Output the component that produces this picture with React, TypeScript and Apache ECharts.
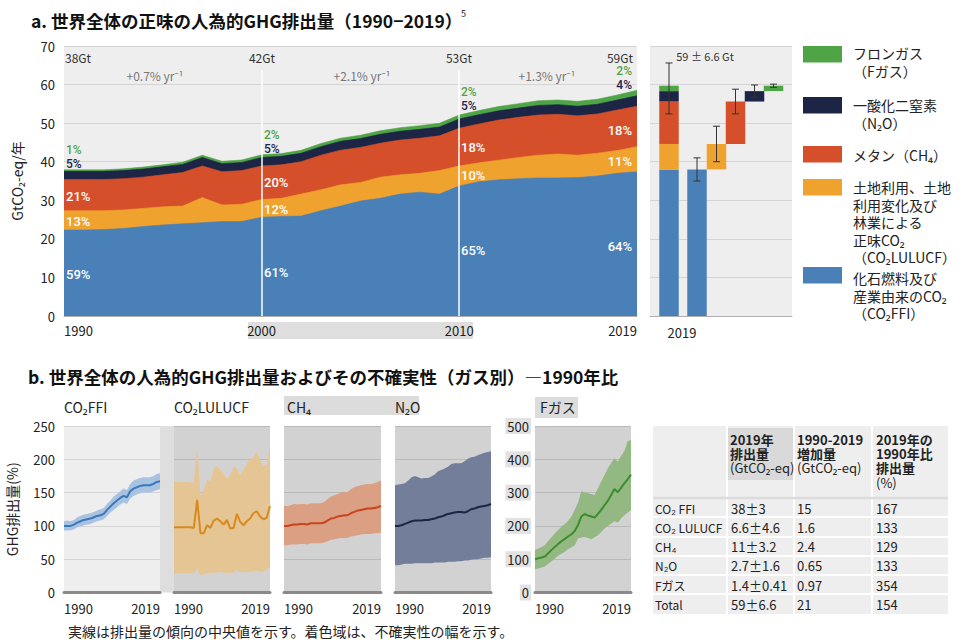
import React, { useEffect, useRef } from 'react';
import * as echarts from 'echarts';

const FONT = "'Noto Sans CJK JP', 'Noto Sans', 'DejaVu Sans', sans-serif";
const NARROW = "'Liberation Sans Narrow', 'Noto Sans CJK JP', sans-serif";
const LATIN = "Roboto, 'Noto Sans', sans-serif";

// ---------- Panel a data (GtCO2-eq / yr) ----------
const years = [1990, 1991, 1992, 1993, 1994, 1995, 1996, 1997, 1998, 1999, 2000, 2001, 2002, 2003, 2004, 2005, 2006, 2007, 2008, 2009, 2010, 2011, 2012, 2013, 2014, 2015, 2016, 2017, 2018, 2019];
const co2ffi = [22.3, 22.3, 22.4, 22.7, 23.2, 23.6, 23.9, 24.2, 24.5, 24.5, 25.6, 25.8, 25.9, 27.3, 28.5, 29.8, 30.5, 31.6, 32.1, 31.6, 33.7, 34.8, 35.3, 35.6, 35.8, 35.8, 35.9, 36.3, 37.0, 37.4];
const co2lulucf = [5.0, 5.0, 4.9, 4.8, 4.7, 4.7, 4.6, 6.5, 4.3, 4.5, 4.6, 4.7, 5.7, 5.4, 5.5, 4.8, 5.5, 5.0, 4.9, 6.1, 5.2, 4.9, 5.1, 5.5, 5.9, 6.2, 5.8, 5.9, 5.9, 6.5];
const ch4 = [8.1, 8.1, 8.1, 8.1, 8.1, 8.3, 8.7, 8.2, 8.6, 8.7, 8.7, 8.7, 8.4, 9.0, 9.0, 9.1, 8.8, 9.0, 9.1, 9.0, 9.8, 10.1, 10.4, 10.4, 10.4, 10.3, 10.2, 10.2, 10.5, 10.5];
const n2o = [2.1, 2.1, 2.1, 2.1, 2.1, 2.1, 2.1, 2.2, 2.1, 2.1, 2.2, 2.2, 2.2, 2.2, 2.3, 2.3, 2.3, 2.3, 2.3, 2.3, 2.4, 2.4, 2.4, 2.4, 2.5, 2.5, 2.5, 2.5, 2.6, 2.7];
const fgas = [0.4, 0.4, 0.4, 0.45, 0.5, 0.5, 0.55, 0.6, 0.6, 0.65, 0.7, 0.7, 0.75, 0.8, 0.8, 0.85, 0.9, 0.9, 0.95, 0.95, 1.0, 1.05, 1.1, 1.15, 1.2, 1.2, 1.25, 1.3, 1.3, 1.4];

const gasColors = ['#4a80b8', '#f0a22e', '#d5502a', '#1c2546', '#4fa545'];

// 2019 waterfall
const gas2019 = [38, 6.6, 11, 2.7, 1.4];
const gasErr2019 = [3, 4.6, 3.2, 1.6, 0.41];
const total2019 = 59;
const totalErr2019 = 6.6;

// Top chart annotations
const totalLabels = ['38Gt', '42Gt', '53Gt', '59Gt'];
const rateLabels = ['+0.7% yr⁻¹', '+2.1% yr⁻¹', '+1.3% yr⁻¹'];
const share1990 = ['1%', '5%', '21%', '13%', '59%'];
const share2000 = ['2%', '5%', '20%', '12%', '61%'];
const share2010 = ['2%', '5%', '18%', '10%', '65%'];
const share2019 = ['2%', '4%', '18%', '11%', '64%'];

// ---------- Panel b data (% of 1990) ----------
const ffiMed = [100, 100, 100, 102, 105, 107, 109, 110, 111, 113, 115, 116, 118, 124, 129, 134, 138, 142, 145, 143, 152, 156, 158, 160, 161, 161, 161, 163, 166, 167];
const ffiLo = [93, 93, 93, 95, 98, 99, 101, 102, 103, 105, 107, 108, 110, 115, 120, 124, 128, 132, 135, 133, 141, 145, 147, 149, 150, 150, 150, 152, 154, 155];
const ffiHi = [107, 108, 107, 109, 113, 115, 117, 118, 119, 121, 123, 125, 127, 133, 138, 144, 148, 152, 156, 154, 163, 168, 170, 172, 173, 173, 173, 175, 178, 179];
const lulMed = [98, 98, 98, 98, 98, 98, 97, 139, 89, 89, 101, 97, 108, 111, 107, 102, 109, 96, 97, 118, 106, 101, 107, 111, 119, 122, 114, 110, 112, 130];
const lulLo = [29, 29, 29, 29, 29, 29, 29, 36, 25, 27, 29, 29, 29, 30, 31, 30, 29, 29, 30, 34, 30, 31, 30, 31, 32, 33, 31, 31, 35, 38];
const lulHi = [166, 166, 166, 166, 166, 165, 164, 219, 144, 154, 170, 166, 186, 190, 184, 179, 171, 176, 189, 186, 176, 184, 194, 200, 204, 211, 199, 190, 191, 221];
const ch4Med = [100, 100, 101, 102, 102, 103, 103, 102, 104, 104, 104, 104, 105, 108, 111, 112, 114, 115, 116, 116, 119, 121, 123, 124, 125, 126, 126, 127, 128, 130];
const ch4Lo = [71, 71, 72, 72, 72, 73, 73, 72, 74, 74, 74, 74, 75, 77, 79, 80, 81, 82, 82, 82, 84, 85, 86, 87, 88, 88, 88, 89, 89, 90];
const ch4Hi = [130, 130, 131, 133, 132, 133, 133, 132, 134, 134, 134, 134, 136, 140, 144, 146, 148, 150, 151, 151, 155, 158, 160, 161, 162, 163, 163, 164, 166, 168];
const n2oMed = [100, 100, 101, 103, 105, 107, 108, 108, 108, 109, 109, 110, 111, 113, 114, 116, 118, 119, 120, 121, 121, 120, 122, 125, 126, 128, 129, 130, 131, 133];
const n2oLo = [41, 41, 42, 43, 43, 43, 44, 44, 44, 44, 44, 44, 45, 45, 45, 45, 46, 46, 46, 47, 47, 48, 48, 49, 50, 50, 51, 52, 52, 53];
const n2oHi = [161, 162, 163, 164, 168, 173, 175, 173, 171, 172, 172, 174, 177, 182, 184, 186, 189, 193, 194, 194, 194, 197, 201, 203, 204, 206, 208, 210, 211, 212];
const fgMed = [100, 103, 105, 108, 118, 128, 137, 146, 154, 161, 168, 175, 185, 203, 228, 236, 231, 228, 225, 236, 248, 262, 275, 293, 311, 301, 314, 328, 340, 354];
const fgLo = [70, 72, 75, 78, 86, 94, 102, 110, 116, 122, 130, 136, 142, 162, 165, 167, 164, 160, 166, 172, 182, 192, 200, 207, 214, 210, 222, 232, 240, 247];
const fgHi = [128, 132, 137, 143, 155, 166, 178, 188, 198, 206, 215, 228, 248, 270, 305, 300, 298, 296, 293, 313, 333, 353, 373, 388, 403, 393, 410, 425, 455, 458];

const panelTitles = ['CO₂FFI', 'CO₂LULUCF', 'CH₄', 'N₂O', 'Fガス'];
const panelLineColors = ['#3b78b7', '#d98a1e', '#c9431f', '#1c2546', '#3d8d2f'];
const panelBandColors = ['#a8c3e1', '#e6c594', '#dba083', '#737e9a', '#94b881'];

// Table
const tableRowLabels = ['CO₂ FFI', 'CO₂ LULUCF', 'CH₄', 'N₂O', 'Fガス', 'Total'];
const table2019 = ['38±3', '6.6±4.6', '11±3.2', '2.7±1.6', '1.4±0.41', '59±6.6'];
const tableIncrease = ['15', '1.6', '2.4', '0.65', '0.97', '21'];
const tableRatio = ['167', '133', '129', '133', '354', '154'];
const tableHead1 = ['2019年', '排出量', '(GtCO₂-eq)'];
const tableHead2 = ['1990-2019', '増加量', '(GtCO₂-eq)'];
const tableHead3 = ['2019年の', '1990年比', '排出量', '(%)'];

const legendItems = [
  { color: 4, lines: ['フロンガス', '（Fガス）'] },
  { color: 3, lines: ['一酸化二窒素', '（N₂O）'] },
  { color: 2, lines: ['メタン（CH₄）'] },
  { color: 1, lines: ['土地利用、土地', '利用変化及び', '林業による', '正味CO₂', '（CO₂LULUCF）'] },
  { color: 0, lines: ['化石燃料及び', '産業由来のCO₂', '（CO₂FFI）'] },
];

function txt(text: string, x: number, y: number, o: any = {}) {
  const va = o.valign ?? 'middle';
  const style: any = {
    text, fontSize: o.size ?? 13, fill: o.color ?? '#222', fontFamily: o.family ?? FONT,
    fontWeight: o.weight ?? 'normal',
    textAlign: o.align ?? 'left', align: o.align ?? 'left',
    textVerticalAlign: va, verticalAlign: va,
  };
  if (o.lineHeight) style.lineHeight = o.lineHeight;
  if (o.rich) style.rich = o.rich;
  return { type: 'text', x, y, z: 100, silent: true, style };
}
function rect(x: number, y: number, w: number, h: number, fill: string, z = -1) {
  return { type: 'rect', z, silent: true, shape: { x, y, width: w, height: h }, style: { fill } };
}
function hline(x1: number, x2: number, y: number, stroke: string, w = 1, z = 1) {
  return { type: 'line', z, silent: true, shape: { x1, y1: y, x2, y2: y }, style: { stroke, lineWidth: w } };
}
function vline(x: number, y1: number, y2: number, stroke: string, w = 1, z = 1) {
  return { type: 'line', z, silent: true, shape: { x1: x, y1, x2: x, y2 }, style: { stroke, lineWidth: w } };
}

function buildOption() {
  const gasSeries = [co2ffi, co2lulucf, ch4, n2o, fgas];

  const grid: any[] = [
    { left: 64, top: 46, width: 573, height: 270, show: true, backgroundColor: '#efeeef', borderWidth: 0 },
    { left: 650, top: 46, width: 142, height: 270, show: true, backgroundColor: '#efeeef', borderWidth: 0 },
  ];
  const panelLefts = [64, 174, 284, 395, 535];
  const panelWidths = [96, 96, 97, 96, 96];
  panelLefts.forEach((l, k) => {
    grid.push({ left: l, top: 426, width: panelWidths[k], height: 166.5, show: true, backgroundColor: k === 0 ? '#efeeef' : '#d3d2d3', borderWidth: 0 });
  });

  const axisLabelBase = { fontFamily: FONT, fontSize: 13, color: '#222' };

  const xAxis: any[] = [
    {
      gridIndex: 0, type: 'value', min: 1990, max: 2019,
      axisLine: { show: true, lineStyle: { color: '#b0b0b0' } }, axisTick: { show: false }, splitLine: { show: false },
      axisLabel: { ...axisLabelBase, customValues: [1990, 2000, 2010, 2019], alignMinLabel: 'left', alignMaxLabel: 'right', margin: 8, formatter: (v: number) => String(v) },
    },
    {
      gridIndex: 1, type: 'value', min: 0, max: 142,
      axisLine: { show: true, lineStyle: { color: '#b0b0b0' } }, axisTick: { show: false }, splitLine: { show: false }, axisLabel: { show: false },
    },
  ];
  const yAxis: any[] = [
    {
      gridIndex: 0, type: 'value', min: 0, max: 70, interval: 10,
      axisLine: { show: false }, axisTick: { show: false },
      splitLine: { lineStyle: { color: '#d4d4d4' } },
      axisLabel: { ...axisLabelBase, margin: 9 },
      name: 'GtCO₂-eq/年', nameLocation: 'middle', nameRotate: 90, nameGap: 40,
      nameTextStyle: { fontFamily: FONT, fontSize: 14, color: '#222' },
    },
    {
      gridIndex: 1, type: 'value', min: 0, max: 70, interval: 10,
      axisLine: { show: false }, axisTick: { show: false }, axisLabel: { show: false },
      splitLine: { lineStyle: { color: '#d4d4d4' } },
    },
  ];
  panelLefts.forEach((_, k) => {
    const gi = k + 2;
    xAxis.push({
      gridIndex: gi, type: 'value', min: 1990, max: 2019,
      axisLine: { show: true, lineStyle: { color: '#8a8a8a', width: 3 } }, axisTick: { show: false }, splitLine: { show: false },
      axisLabel: { ...axisLabelBase, customValues: [1990, 2019], alignMinLabel: 'left', alignMaxLabel: 'right', margin: 9, formatter: (v: number) => String(v) },
    });
    const isF = k === 4;
    yAxis.push({
      gridIndex: gi, type: 'value', min: 0, max: isF ? 500 : 250, interval: isF ? 100 : 50,
      axisLine: { show: false }, axisTick: { show: false },
      splitLine: { lineStyle: { color: k === 0 ? '#d4d4d4' : '#b9b9b9', width: 1.2 } },
      axisLabel: k === 0
        ? { ...axisLabelBase, margin: 9 }
        : isF
          ? { ...axisLabelBase, margin: 4, backgroundColor: '#e2e2e2', padding: [2, 2, 1, 2] }
          : { show: false },
      ...(k === 0 ? {
        name: 'GHG排出量(%)', nameLocation: 'middle', nameRotate: 90, nameGap: 45,
        nameTextStyle: { fontFamily: FONT, fontSize: 14, color: '#222' },
      } : {}),
    });
  });

  const series: any[] = [];
  // stacked areas: cumulative tops, painted from the total downwards
  const gasNames = ['CO2FFI', 'CO2LULUCF', 'CH4', 'N2O', 'Fgas'];
  const cumTops: number[][] = [];
  gasSeries.forEach((arr, i) => {
    cumTops.push(arr.map((v, j) => (i === 0 ? 0 : cumTops[i - 1][j]) + v));
  });
  for (let i = gasSeries.length - 1; i >= 0; i--) {
    series.push({
      name: gasNames[i], type: 'line', xAxisIndex: 0, yAxisIndex: 0,
      symbol: 'none', silent: true, z: 2,
      lineStyle: { width: 0.6, color: gasColors[i] },
      itemStyle: { color: gasColors[i] },
      areaStyle: { color: gasColors[i], opacity: 1 },
      data: years.map((y, j) => [y, cumTops[i][j]]),
    });
  }
  // white decade lines
  series.push({
    type: 'line', xAxisIndex: 0, yAxisIndex: 0, data: [], z: 4, silent: true,
    markLine: {
      silent: true, symbol: ['none', 'none'], label: { show: false },
      lineStyle: { color: '#ffffff', width: 1.5, type: 'solid' },
      data: [
        [{ coord: [2000, 0] }, { coord: [2000, 63.8] }],
        [{ coord: [2010, 0] }, { coord: [2010, 63.8] }],
      ],
    },
  });

  // waterfall
  const slots = [19, 47, 66.5, 85.5, 104.5, 123.5];
  const barData: any[] = [];
  const errData: any[] = [];
  let cum = 0;
  gas2019.forEach((v, i) => {
    barData.push([slots[0], cum, cum + v, i]);
    barData.push([slots[i + 1], cum, cum + v, i]);
    errData.push([slots[i + 1], cum + v, gasErr2019[i]]);
    cum += v;
  });
  errData.push([slots[0], total2019, totalErr2019]);
  series.push({
    type: 'custom', xAxisIndex: 1, yAxisIndex: 1, silent: true, z: 3,
    renderItem: (params: any, api: any) => {
      const x = api.value(0), lo = api.value(1), hi = api.value(2), ci = api.value(3);
      const p1 = api.coord([x, hi]);
      const p0 = api.coord([x, lo]);
      const w = 19.5;
      return { type: 'rect', shape: { x: p1[0] - w / 2, y: p1[1], width: w, height: p0[1] - p1[1] }, style: { fill: gasColors[ci] } };
    },
    encode: { x: 0, y: [1, 2] },
    data: barData,
  });
  series.push({
    type: 'custom', xAxisIndex: 1, yAxisIndex: 1, silent: true, z: 5,
    renderItem: (params: any, api: any) => {
      const x = api.value(0), c = api.value(1), e = api.value(2);
      const top = api.coord([x, c + e]);
      const bot = api.coord([x, c - e]);
      const cw = 3.5;
      const st = { stroke: '#333', lineWidth: 1 };
      return {
        type: 'group',
        children: [
          { type: 'line', shape: { x1: top[0], y1: top[1], x2: bot[0], y2: bot[1] }, style: st },
          { type: 'line', shape: { x1: top[0] - cw, y1: top[1], x2: top[0] + cw, y2: top[1] }, style: st },
          { type: 'line', shape: { x1: bot[0] - cw, y1: bot[1], x2: bot[0] + cw, y2: bot[1] }, style: st },
        ],
      };
    },
    encode: { x: 0, y: 1 },
    data: errData,
  });

  // panel b: uncertainty bands (polygon) + median lines
  const meds = [ffiMed, lulMed, ch4Med, n2oMed, fgMed];
  const los = [ffiLo, lulLo, ch4Lo, n2oLo, fgLo];
  const his = [ffiHi, lulHi, ch4Hi, n2oHi, fgHi];
  meds.forEach((med, k) => {
    const ax = k + 2;
    const lo = los[k], hi = his[k];
    series.push({
      type: 'custom', xAxisIndex: ax, yAxisIndex: ax, silent: true, z: 2,
      renderItem: (params: any, api: any) => {
        if (params.dataIndex !== 0) return null;
        const pts: number[][] = [];
        for (let j = 0; j < years.length; j++) pts.push(api.coord([years[j], hi[j]]));
        for (let j = years.length - 1; j >= 0; j--) pts.push(api.coord([years[j], lo[j]]));
        return { type: 'polygon', shape: { points: pts }, style: { fill: panelBandColors[k] } };
      },
      encode: { x: 0, y: [1, 2] },
      data: years.map((y, j) => [y, lo[j], hi[j]]),
    });
    series.push({
      type: 'line', xAxisIndex: ax, yAxisIndex: ax, symbol: 'none', silent: true,
      lineStyle: { color: panelLineColors[k], width: 2 },
      data: years.map((y, j) => [y, med[j]]), z: 3,
    });
  });

  // ----- graphics -----
  const g: any[] = [];
  g.push(txt('a. 世界全体の正味の人為的GHG排出量（1990−2019）', 31, 20, { size: 17.5, weight: 'bold', color: '#111' }));
  g.push(txt('5', 461, 13, { size: 9, color: '#111' }));
  g.push(txt('b. 世界全体の人為的GHG排出量およびその不確実性（ガス別）―1990年比', 28, 376, { size: 17.5, weight: 'bold', color: '#111' }));

  g.push(rect(248, 322, 225, 17, '#dedede', -1));

  g.push(txt(totalLabels[0], 65, 57, { size: 12, color: '#333' }));
  g.push(txt(totalLabels[1], 262, 57, { size: 12, color: '#333', align: 'center' }));
  g.push(txt(totalLabels[2], 459, 57, { size: 12, color: '#333', align: 'center' }));
  g.push(txt(totalLabels[3], 633, 57, { size: 12, color: '#333', align: 'right' }));
  g.push(txt(rateLabels[0], 155, 75, { size: 12, color: '#777', align: 'center' }));
  g.push(txt(rateLabels[1], 362, 75, { size: 12, color: '#777', align: 'center' }));
  g.push(txt(rateLabels[2], 547, 75, { size: 12, color: '#777', align: 'center' }));

  // share labels: green + navy pair as one rich text, others white
  const pairRich = {
    g: { fill: '#4fa545', fontSize: 12, fontFamily: LATIN, fontWeight: 500, lineHeight: 14 },
    n: { fill: '#1c2546', fontSize: 12, fontFamily: LATIN, fontWeight: 500, lineHeight: 14 },
  };
  const addShares = (arr: string[], x: number, ys: number[], align: string) => {
    g.push(txt(`{g|${arr[0]}}\n{n|${arr[1]}}`, x, ys[0] - 7, { size: 12, family: LATIN, align, valign: 'top', lineHeight: 14, rich: pairRich }));
    for (let i = 2; i < 5; i++) g.push(txt(arr[i], x, ys[i], { size: 13, family: LATIN, weight: 500, color: '#ffffff', align }));
  };
  addShares(share1990, 66, [150, 164, 196, 221, 274], 'left');
  addShares(share2000, 264, [135, 149, 182, 209, 272], 'left');
  addShares(share2010, 461, [92, 106, 147, 175, 250], 'left');
  addShares(share2019, 632, [71, 85, 130, 161, 246], 'right');

  g.push(txt('59 ± 6.6 Gt', 705, 56, { size: 11, color: '#333', align: 'center' }));
  g.push(txt('2019', 682, 332, { size: 13, color: '#222', align: 'center' }));

  // legend
  const legendRectY = [46, 97, 146, 179, 267];
  const legendFirstY = [53, 105, 155, 187, 278];
  legendItems.forEach((it, i) => {
    g.push(rect(803, legendRectY[i], 39, 16.5, gasColors[it.color], 10));
    g.push(txt(it.lines.join('\n'), 853, legendFirstY[i] - 8.75, { size: 14, color: '#222', valign: 'top', lineHeight: 17.5 }));
  });

  // panel b headers
  g.push(rect(284, 396, 135, 19, '#dcdcdc', -1));
  g.push(rect(535, 397, 43, 21, '#dcdcdc', -1));
  g.push(rect(160, 426, 14, 166.5, '#dedede', -1));
  const headX = [64, 174, 287, 395, 540];
  panelTitles.forEach((t, k) => g.push(txt(t, headX[k], 407, { size: 14, color: '#222' })));

  // table
  g.push(rect(653, 426, 295, 188, '#efeeef', -2));
  g.push(rect(728, 428, 65, 52, '#d9d9d9', -1));
  [727, 794, 872].forEach((x) => g.push(vline(x, 426, 614, '#ffffff', 2, 1)));
  g.push(hline(653, 948, 498, '#dcdcdc', 2.5, 2));
  [517, 537, 556, 575, 594].forEach((y) => g.push(hline(653, 948, y, '#ffffff', 2, 2)));
  const headRich = {
    b: { fontWeight: 'bold', fontSize: 13, fontFamily: FONT, fill: '#222', lineHeight: 14.3 },
    n: { fontWeight: 'normal', fontSize: 13, fontFamily: FONT, fill: '#222', lineHeight: 14.3 },
  };
  const headText = (lines: string[], nb: number) => lines.map((l, i) => `{${i < nb ? 'b' : 'n'}|${l}}`).join('\n');
  g.push(txt(headText(tableHead1, 2), 730, 432, { valign: 'top', lineHeight: 14.3, rich: headRich }));
  g.push(txt(headText(tableHead2, 2), 797, 432, { valign: 'top', lineHeight: 14.3, rich: headRich }));
  g.push(txt(headText(tableHead3, 3), 876, 432, { valign: 'top', lineHeight: 14.3, rich: headRich }));
  const rowY = [508, 527, 546, 565, 585, 604];
  tableRowLabels.forEach((t, i) => {
    g.push(txt(t, 655, rowY[i], { size: 12, family: NARROW }));
    g.push(txt(table2019[i], 731, rowY[i], { size: 13, family: NARROW }));
    g.push(txt(tableIncrease[i], 797, rowY[i], { size: 13, family: NARROW }));
    g.push(txt(tableRatio[i], 876, rowY[i], { size: 13, family: NARROW }));
  });

  g.push(txt('実線は排出量の傾向の中央値を示す。着色域は、不確実性の幅を示す。', 68, 631, { size: 14, color: '#222' }));

  return {
    animation: false,
    backgroundColor: '#ffffff',
    textStyle: { fontFamily: FONT },
    grid, xAxis, yAxis, series,
    graphic: { elements: g },
  };
}

export default function App() {
  const ref = useRef<HTMLDivElement>(null);
  useEffect(() => {
    document.body.style.margin = '0';
    const chart = echarts.init(ref.current!, undefined, { renderer: 'svg' });
    chart.setOption(buildOption() as any);
    return () => chart.dispose();
  }, []);
  return <div ref={ref} style={{ width: 966, height: 640 }} />;
}
